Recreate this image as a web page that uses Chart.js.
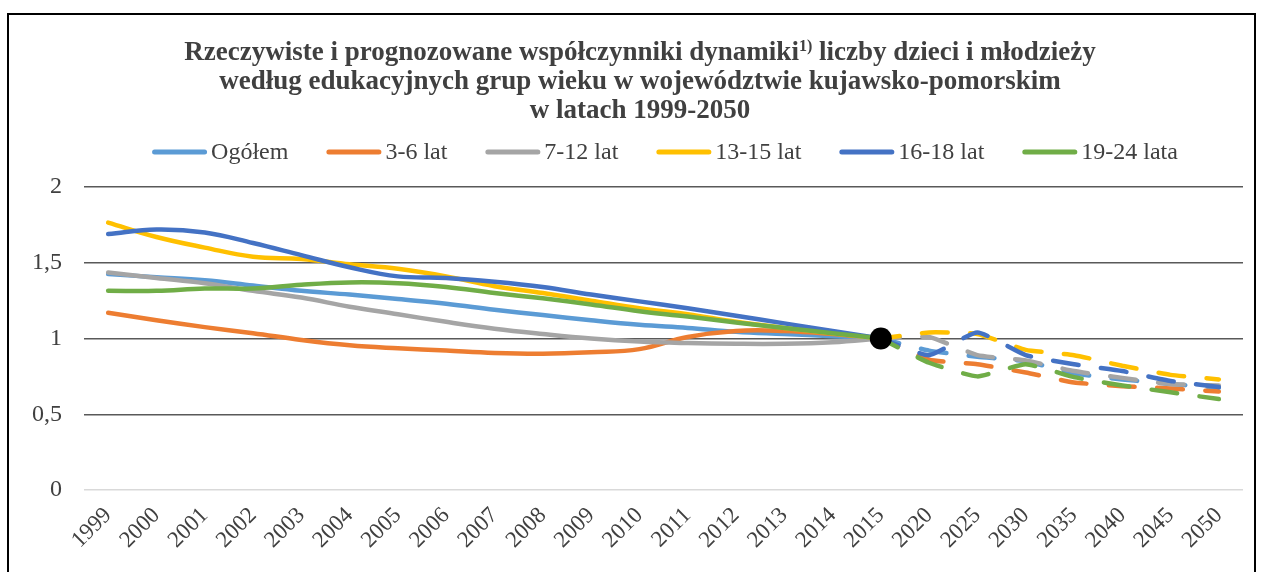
<!DOCTYPE html>
<html>
<head>
<meta charset="utf-8">
<script src="https://cdn.jsdelivr.net/npm/chart.js@4"></script>
<style>
    html, body { margin: 0; padding: 0; background: #fff; }
</style>
</head>
<body>
<canvas id="chart" width="1263" height="572"></canvas>
<script>
// years: actual 1999-2015, forecast 2020-2050 (5-year steps)
const years = [
    "1999", "2000", "2001", "2002", "2003", "2004", "2005", "2006", "2007",
    "2008", "2009", "2010", "2011", "2012", "2013", "2014", "2015",
    "2020", "2025", "2030", "2035", "2040", "2045", "2050",
];
const lastActual = 16; // index of 2015

const ogolem = [1.425, 1.405, 1.385, 1.35, 1.315, 1.29, 1.26, 1.23, 1.19, 1.155, 1.12, 1.09, 1.07, 1.045, 1.03, 1.015, 1.0,
    0.92, 0.88, 0.85, 0.77, 0.73, 0.70, 0.675];
const lat3_6 = [1.17, 1.12, 1.075, 1.035, 0.99, 0.955, 0.935, 0.92, 0.905, 0.90, 0.91, 0.93, 1.01, 1.05, 1.05, 1.03, 1.0,
    0.86, 0.83, 0.775, 0.71, 0.685, 0.67, 0.65];
const lat7_12 = [1.435, 1.40, 1.365, 1.315, 1.27, 1.21, 1.16, 1.11, 1.065, 1.03, 1.0, 0.98, 0.97, 0.965, 0.965, 0.975, 1.0,
    1.01, 0.89, 0.855, 0.785, 0.74, 0.70, 0.69];
const lat13_15 = [1.765, 1.67, 1.60, 1.54, 1.525, 1.49, 1.46, 1.41, 1.345, 1.30, 1.25, 1.20, 1.16, 1.11, 1.07, 1.035, 1.0,
    1.04, 1.03, 0.925, 0.89, 0.82, 0.76, 0.73];
const lat16_18 = [1.69, 1.72, 1.70, 1.63, 1.55, 1.47, 1.41, 1.40, 1.375, 1.34, 1.29, 1.245, 1.20, 1.15, 1.10, 1.05, 1.0,
    0.89, 1.04, 0.89, 0.83, 0.785, 0.72, 0.68];
const lata19_24 = [1.315, 1.315, 1.33, 1.33, 1.355, 1.37, 1.365, 1.34, 1.30, 1.265, 1.225, 1.18, 1.145, 1.105, 1.07, 1.035, 1.0,
    0.84, 0.75, 0.83, 0.745, 0.69, 0.645, 0.60];

const seriesNames = ["Ogółem", "3-6 lat", "7-12 lat", "13-15 lat", "16-18 lat", "19-24 lata"];
const seriesValues = [ogolem, lat3_6, lat7_12, lat13_15, lat16_18, lata19_24];
const seriesColors = ["#5B9BD5", "#ED7D31", "#A5A5A5", "#FFC000", "#4472C4", "#70AD47"];

const yTicks = [0, 0.5, 1, 1.5, 2];

const titleLines = [
    ["Rzeczywiste i prognozowane współczynniki dynamiki", "1)", " liczby dzieci i młodzieży"],
    ["według edukacyjnych grup wieku w województwie kujawsko-pomorskim"],
    ["w latach 1999-2050"],
];

const serif = "'Liberation Serif', 'Times New Roman', serif";
const textColor = "#404040";

const datasets = [];
seriesValues.forEach((vals, i) => {
    // solid: real values up to 2015
    datasets.push({
        label: seriesNames[i],
        data: vals.map((v, j) => (j <= lastActual ? v : null)),
        borderColor: seriesColors[i],
        borderWidth: 4.5,
        borderCapStyle: "round",
        borderJoinStyle: "round",
        tension: 0.4,
        pointRadius: 0,
        order: 10 - i,
    });
    // dashed: forecast from 2015 on
    datasets.push({
        label: seriesNames[i] + " prognoza",
        data: vals.map((v, j) => (j >= lastActual ? v : null)),
        borderColor: seriesColors[i],
        borderWidth: 4.5,
        borderCapStyle: "round",
        borderJoinStyle: "round",
        borderDash: [26, 22.3],
        borderDashOffset: 7,
        tension: 0.15,
        pointRadius: 0,
        order: 10 - i,
    });
});
// black marker at base year
datasets.push({
    label: "2015",
    data: years.map((y, j) => (j === lastActual ? 1 : null)),
    showLine: false,
    pointRadius: 11,
    pointBackgroundColor: "#000",
    pointBorderWidth: 0,
    order: -1,
});

const framePlugin = {
    id: "framePlugin",
    beforeDraw: (chart) => {
        const ctx = chart.ctx;
        ctx.save();
        ctx.fillStyle = "#fff";
        ctx.fillRect(0, 0, chart.width, chart.height);
        ctx.strokeStyle = "#000";
        ctx.lineWidth = 2;
        ctx.strokeRect(8, 14, 1247, 620);
        ctx.restore();
    },
};

const titlePlugin = {
    id: "titlePlugin",
    afterDraw: (chart) => {
        const ctx = chart.ctx;
        const big = "bold 27px " + serif;
        const small = "bold 16px " + serif;
        const cx = 640;
        const baselines = [60, 89, 118];
        ctx.save();
        ctx.fillStyle = textColor;
        ctx.textBaseline = "alphabetic";
        ctx.textAlign = "left";
        titleLines.forEach((parts, li) => {
            const widths = parts.map((p, k) => {
                ctx.font = k === 1 ? small : big;
                return ctx.measureText(p).width;
            });
            let x = cx - widths.reduce((a, b) => a + b, 0) / 2;
            parts.forEach((p, k) => {
                ctx.font = k === 1 ? small : big;
                ctx.fillText(p, x, baselines[li] - (k === 1 ? 9 : 0));
                x += widths[k];
            });
        });
        ctx.restore();
    },
};

const legendPlugin = {
    id: "legendPlugin",
    afterDraw: (chart) => {
        const ctx = chart.ctx;
        const lineW = 55;
        const textGap = 4;
        const itemGap = 38;
        const cy = 152;
        ctx.save();
        ctx.font = "24px " + serif;
        const widths = seriesNames.map((n) => ctx.measureText(n).width);
        const total = widths.reduce((a, w) => a + lineW + textGap + w, 0) + itemGap * (seriesNames.length - 1);
        let x = 665 - total / 2;
        ctx.textBaseline = "middle";
        ctx.lineCap = "round";
        ctx.lineWidth = 5;
        seriesNames.forEach((n, i) => {
            ctx.strokeStyle = seriesColors[i];
            ctx.beginPath();
            ctx.moveTo(x + 2.5, cy);
            ctx.lineTo(x + lineW - 2.5, cy);
            ctx.stroke();
            ctx.fillStyle = textColor;
            ctx.fillText(n, x + lineW + textGap, cy + 1);
            x += lineW + textGap + widths[i] + itemGap;
        });
        ctx.restore();
    },
};

new Chart(document.getElementById("chart").getContext("2d"), {
    type: "line",
    data: { labels: years, datasets: datasets },
    options: {
        responsive: false,
        animation: false,
        layout: { padding: { top: 187, left: 8, right: 20, bottom: 0 } },
        plugins: {
            legend: { display: false },
            title: { display: false },
            tooltip: { enabled: false },
        },
        scales: {
            x: {
                offset: true,
                grid: { display: false, drawTicks: false },
                border: { display: false },
                ticks: {
                    autoSkip: false,
                    maxRotation: 45,
                    minRotation: 45,
                    padding: 12,
                    color: textColor,
                    font: { family: serif, size: 23 },
                },
                afterFit: (scale) => { scale.height = 82; },
            },
            y: {
                min: 0,
                max: 2,
                afterBuildTicks: (scale) => {
                    scale.ticks = yTicks.map((v) => ({ value: v }));
                },
                grid: {
                    color: (c) => (c.tick && c.tick.value === 0 ? "#d9d9d9" : "#595959"),
                    lineWidth: 1.5,
                    drawTicks: false,
                },
                border: { display: false },
                ticks: {
                    padding: 22,
                    color: textColor,
                    font: { family: serif, size: 24 },
                    callback: (v) => String(v).replace(".", ","),
                },
                afterFit: (scale) => { scale.width = 76; },
            },
        },
    },
    plugins: [framePlugin, titlePlugin, legendPlugin],
});
</script>
</body>
</html>
